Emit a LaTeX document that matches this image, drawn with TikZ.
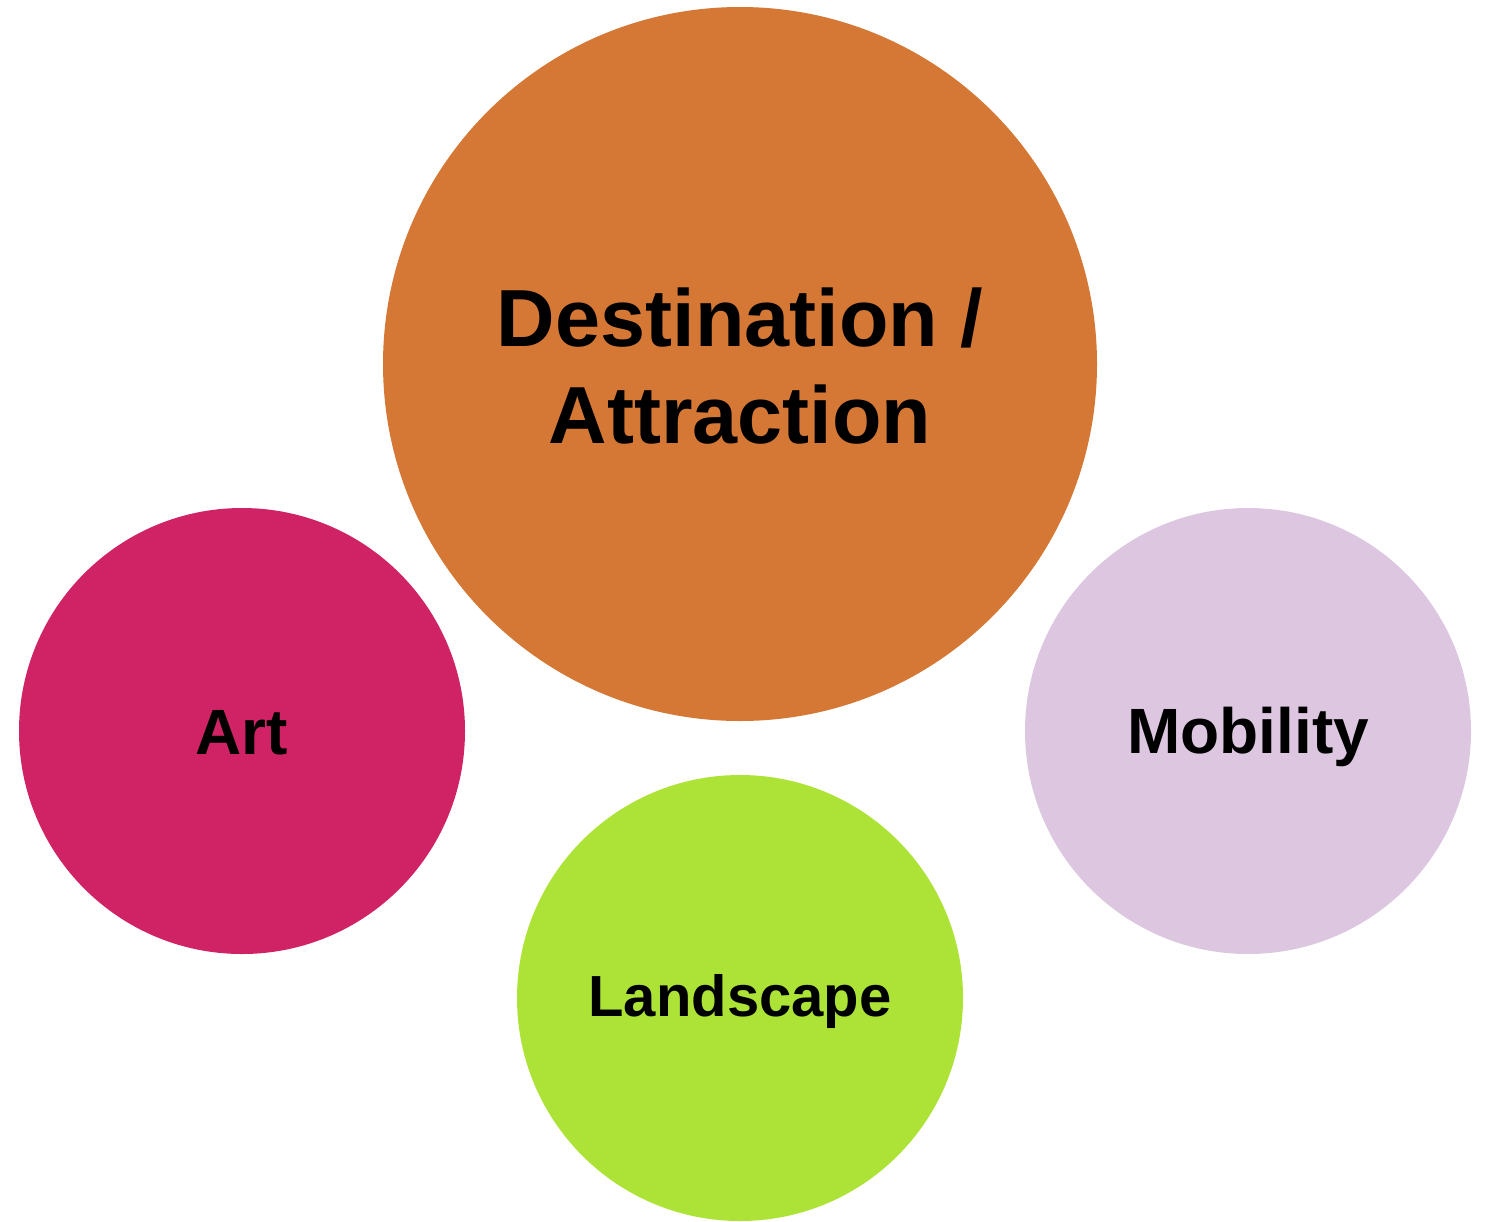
\documentclass[tikz,border=0pt]{standalone}
\usepackage{fontspec}
\setmainfont{Liberation Sans}
\definecolor{corange}{HTML}{D57836}
\definecolor{cmagenta}{HTML}{CF2365}
\definecolor{clavender}{HTML}{DCC6E0}
\definecolor{clime}{HTML}{ADE337}
\begin{document}
\begin{tikzpicture}[x=0.5pt,y=-0.5pt,
  blob/.style={circle,inner sep=0pt,align=center,text=black,font=\bfseries}]
\useasboundingbox (0,0) rectangle (1486,1221);
\node[blob,fill=corange,minimum size=357pt] (dest) at (740,364) {};
\node[align=center,font=\fontsize{40.5}{48.5}\bfseries\selectfont] (destlabel) at (740,366) {Destination /\\Attraction};
\node[blob,fill=cmagenta,minimum size=223pt] (art) at (242,731) {};
\node[font=\fontsize{32}{38}\bfseries\selectfont] (artlabel) at (242,733) {Art};
\node[blob,fill=clavender,minimum size=223pt] (mob) at (1248,731) {};
\node[font=\fontsize{32}{38}\bfseries\selectfont] (moblabel) at (1248,737) {Mobility};
\node[blob,fill=clime,minimum size=223pt] (land) at (740,998) {};
\node[font=\fontsize{29}{34}\bfseries\selectfont] (landlabel) at (740,1001) {Landscape};
\end{tikzpicture}
\end{document}
